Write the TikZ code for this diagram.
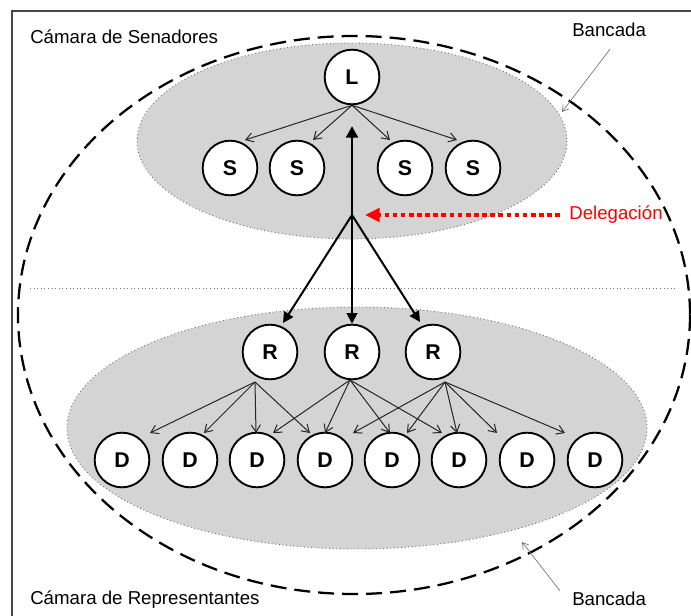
\documentclass[tikz,border=0pt]{standalone}
\usepackage{fontspec}
\setmainfont{Liberation Sans}
\usetikzlibrary{arrows.meta,calc}
\definecolor{chambergray}{RGB}{212,212,212}
\definecolor{framegray}{RGB}{70,70,70}
\definecolor{delegred}{RGB}{255,0,0}
\begin{document}
\begin{tikzpicture}[x=0.75pt,y=-0.75pt,
  member/.style={circle,draw=black,fill=white,line width=1.4pt,minimum size=41pt,
    inner sep=0pt,font=\fontsize{16}{18}\selectfont\bfseries},
  caption/.style={font=\fontsize{14}{16}\selectfont,inner sep=0pt},
  chamber/.style={fill=chambergray,draw=black!55,dotted,line width=0.7pt},
  thinlink/.style={draw=black!85,line width=0.75pt,-{Straight Barb[length=5.5pt,width=7pt]}},
  thicklink/.style={draw=black,line width=1.5pt,-{Triangle[length=8pt,width=8pt]}},
  pointer/.style={draw=black!55,line width=0.5pt,-{Straight Barb[length=4.5pt,width=5.5pt]}},
  bancadaline/.style={draw=black,line width=1.7pt,dash pattern=on 12pt off 6pt},
]
\useasboundingbox (0,0) rectangle (691,616);

% outer frame (runs past the right and bottom edges)
\draw[framegray,line width=1.1pt] (12,700) -- (12,11) -- (760,11);

% chambers
\path[chamber] (352,141) ellipse [x radius=215, y radius=98];
\path[chamber] (357,428) ellipse [x radius=290, y radius=121];

% separator between the chambers
\draw[black!55,dotted,line width=0.7pt] (30,288) -- (678,288);

% bancada
\draw[bancadaline] (354,315) ellipse [x radius=336, y radius=279];

% captions
\node[caption,anchor=west] (senado) at (30,37) {Cámara de Senadores};
\node[caption,anchor=west] (camara) at (30,600) {Cámara de Representantes};
\node[caption,anchor=west] (bancadaA) at (572,30) {Bancada};
\node[caption,anchor=west] (bancadaB) at (572,599) {Bancada};
\node[caption,anchor=west,text=delegred] (deleg) at (569,215) {Delegación};

% senate
\node[member] (L) at (352,77) {L};
\node[member] (s1) at (230,168) {S};
\node[member] (s2) at (297,168) {S};
\node[member] (s3) at (405,168) {S};
\node[member] (s4) at (473,168) {S};

% representatives
\node[member] (r1) at (270,352) {R};
\node[member] (r2) at (352,352) {R};
\node[member] (r3) at (433,352) {R};

% deputies
\foreach \i/\x in {1/122,2/190,3/257,4/325,5/392,6/459,7/527,8/595}
  \node[member] (d\i) at (\x,460) {D};

% leader to senators
\draw[thinlink] (L.south) -- ($(s1)+(15,-28)$);
\draw[thinlink] (L.south) -- ($(s2)+(16,-28)$);
\draw[thinlink] (L.south) -- ($(s3)+(-15,-28)$);
\draw[thinlink] (L.south) -- ($(s4)+(-16,-28)$);

% delegation links
\coordinate (J) at (352,215);
\draw[thicklink,{Triangle[length=8.5pt,width=9pt]}-{Triangle[length=8pt,width=8pt]}]
  ($(L.south)+(0,21)$) -- (r2.north);
\draw[thicklink] (J) -- ($(r1)+(13,-29)$);
\draw[thicklink] (J) -- ($(r3)+(-13,-30)$);

% delegation marker
\draw[delegred,line width=3pt,dash pattern=on 3.5pt off 2.6pt,
  -{Triangle[length=11pt,width=10pt]}]
  ($(deleg.west)+(-9,0)$) -- ($(J)+(13,0)$);

% representatives to deputies
\coordinate (o1) at ($(r1)+(-15,30)$);
\coordinate (o2) at ($(r2)+(-2,28)$);
\coordinate (o3) at ($(r3)+(12,30)$);
\draw[thinlink] (o1) -- ($(d1)+(28,-27)$);
\draw[thinlink] (o1) -- ($(d2)+(14,-27)$);
\draw[thinlink] (o1) -- ($(d3)+(-1,-27)$);
\draw[thinlink] (o1) -- ($(d4)+(-15,-27)$);
\draw[thinlink] (o2) -- ($(d3)+(16,-27)$);
\draw[thinlink] (o2) -- ($(d4)+(0,-27)$);
\draw[thinlink] (o2) -- ($(d5)+(-2,-27)$);
\draw[thinlink] (o2) -- ($(d6)+(-17,-27)$);
\draw[thinlink] (o3) -- ($(d4)+(28,-27)$);
\draw[thinlink] (o3) -- ($(d5)+(15,-27)$);
\draw[thinlink] (o3) -- ($(d6)+(-2,-27)$);
\draw[thinlink] (o3) -- ($(d7)+(-30,-27)$);
\draw[thinlink] (o3) -- ($(d8)+(-30,-27)$);

% bancada pointers
\draw[pointer] ($(bancadaA.south west)+(38,12)$) -- (562,112);
\draw[pointer] ($(bancadaB.north west)+(-12,-1)$) -- (522,542);
\end{tikzpicture}
\end{document}
